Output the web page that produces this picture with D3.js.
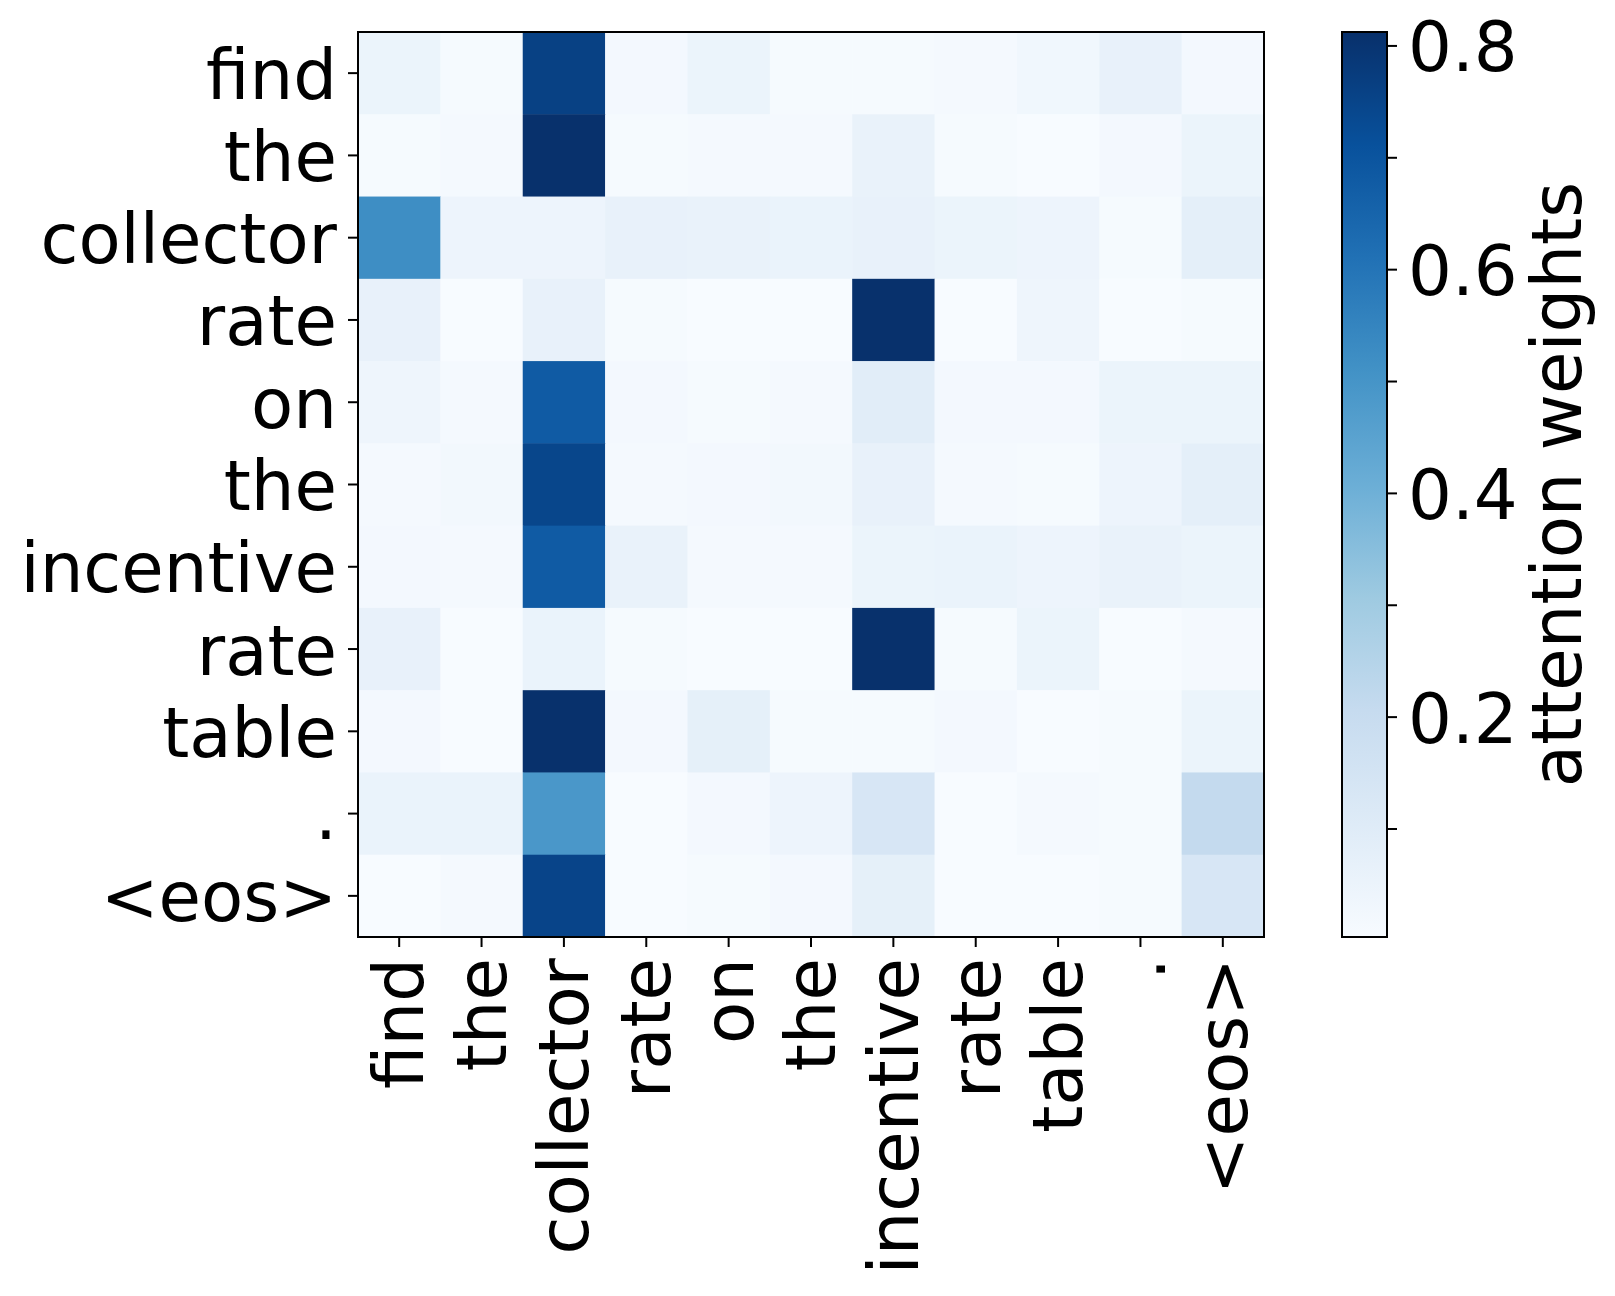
<!DOCTYPE html>
<html>
<head>
<meta charset="utf-8">
<script src="https://cdn.jsdelivr.net/npm/d3@7"></script>
<style>
  body { margin: 0; background: #fff; }
  text { font-family: "DejaVu Sans", sans-serif; fill: #000; }
</style>
</head>
<body>
<div id="viz"></div>
<script>
// tokens (rows = query, cols = key)
var rowTokens = ["find", "the", "collector", "rate", "on", "the", "incentive", "rate", "table", ".", "<eos>"];
var colTokens = ["find", "the", "collector", "rate", "on", "the", "incentive", "rate", "table", ".", "<eos>"];

// attention weights, one array per row
var rowFind      = [0.050, 0.010, 0.760, 0.020, 0.050, 0.010, 0.010, 0.015, 0.030, 0.065, 0.020];
var rowThe1      = [0.010, 0.015, 0.810, 0.010, 0.015, 0.015, 0.060, 0.010, 0.005, 0.020, 0.050];
var rowCollector = [0.520, 0.045, 0.045, 0.065, 0.060, 0.055, 0.065, 0.050, 0.045, 0.010, 0.080];
var rowRate1     = [0.065, 0.005, 0.065, 0.010, 0.005, 0.005, 0.810, 0.005, 0.040, 0.005, 0.010];
var rowOn        = [0.040, 0.015, 0.680, 0.020, 0.010, 0.015, 0.090, 0.020, 0.020, 0.050, 0.050];
var rowThe2      = [0.015, 0.025, 0.745, 0.015, 0.020, 0.025, 0.065, 0.015, 0.010, 0.045, 0.080];
var rowIncentive = [0.020, 0.015, 0.680, 0.060, 0.015, 0.015, 0.050, 0.055, 0.045, 0.060, 0.050];
var rowRate2     = [0.065, 0.005, 0.055, 0.010, 0.005, 0.005, 0.810, 0.010, 0.050, 0.005, 0.015];
var rowTable     = [0.020, 0.005, 0.810, 0.020, 0.075, 0.010, 0.010, 0.020, 0.005, 0.010, 0.050];
var rowDot       = [0.055, 0.055, 0.490, 0.005, 0.020, 0.045, 0.135, 0.005, 0.015, 0.010, 0.210];
var rowEos       = [0.005, 0.015, 0.750, 0.005, 0.010, 0.020, 0.075, 0.005, 0.005, 0.010, 0.135];
var weights = [rowFind, rowThe1, rowCollector, rowRate1, rowOn, rowThe2, rowIncentive, rowRate2, rowTable, rowDot, rowEos];

var cbarTicks = [0.1, 0.2, 0.3, 0.4, 0.5, 0.6, 0.7, 0.8];
var cbarLabels = [0.2, 0.4, 0.6, 0.8];
var vmin = 0.003, vmax = 0.812;

// matplotlib "Blues"
var blues = ["#f7fbff", "#deebf7", "#c6dbef", "#9ecae1", "#6baed6", "#4292c6", "#2171b5", "#08519c", "#08306b"];
var color = d3.scaleLinear()
    .domain(d3.range(blues.length).map(function (i) { return vmin + (vmax - vmin) * i / (blues.length - 1); }))
    .range(blues)
    .clamp(true);

var W = 1615, H = 1296;
var plot = { x: 358, y: 32, w: 906, h: 905 };
var cbar = { x: 1342, y: 32, w: 45, h: 905 };
var fs = 69;

var svg = d3.select("#viz").append("svg")
    .attr("width", W)
    .attr("height", H);

var x = d3.scaleBand().domain(d3.range(colTokens.length)).range([plot.x, plot.x + plot.w]);
var y = d3.scaleBand().domain(d3.range(rowTokens.length)).range([plot.y, plot.y + plot.h]);

var cells = [];
weights.forEach(function (row, i) {
    row.forEach(function (v, j) { cells.push({ r: i, c: j, v: v }); });
});

svg.append("g").selectAll("rect")
    .data(cells)
    .enter().append("rect")
    .attr("x", function (d) { return x(d.c); })
    .attr("y", function (d) { return y(d.r); })
    .attr("width", x.bandwidth() + 0.5)
    .attr("height", y.bandwidth() + 0.5)
    .attr("fill", function (d) { return color(d.v); });

svg.append("rect")
    .attr("x", plot.x).attr("y", plot.y)
    .attr("width", plot.w).attr("height", plot.h)
    .attr("fill", "none").attr("stroke", "#000").attr("stroke-width", 2);

// y axis
var yAxis = d3.axisLeft(y)
    .tickFormat(function (i) { return rowTokens[i]; })
    .tickSize(10).tickPadding(11);
var gy = svg.append("g").attr("transform", "translate(" + plot.x + ",0)").call(yAxis);
gy.select(".domain").remove();
gy.selectAll(".tick line").attr("stroke", "#000").attr("stroke-width", 2);
gy.selectAll(".tick text").style("font-size", fs + "px").attr("font-family", null).attr("dy", "0.37em");

// x axis, rotated labels
var xAxis = d3.axisBottom(x)
    .tickFormat(function (i) { return colTokens[i]; })
    .tickSize(10).tickPadding(11);
var gx = svg.append("g").attr("transform", "translate(0," + (plot.y + plot.h) + ")").call(xAxis);
gx.select(".domain").remove();
gx.selectAll(".tick line").attr("stroke", "#000").attr("stroke-width", 2);
gx.selectAll(".tick text")
    .style("font-size", fs + "px").attr("font-family", null)
    .attr("transform", "rotate(-90)")
    .attr("x", -21).attr("y", 0)
    .attr("dy", "0.35em")
    .attr("text-anchor", "end");

// colorbar
var defs = svg.append("defs");
var grad = defs.append("linearGradient").attr("id", "cbgrad")
    .attr("x1", 0).attr("y1", 1).attr("x2", 0).attr("y2", 0);
grad.selectAll("stop")
    .data(blues)
    .enter().append("stop")
    .attr("offset", function (d, i) { return i / (blues.length - 1); })
    .attr("stop-color", function (d) { return d; });

svg.append("rect")
    .attr("x", cbar.x).attr("y", cbar.y)
    .attr("width", cbar.w).attr("height", cbar.h)
    .attr("fill", "url(#cbgrad)")
    .attr("stroke", "#000").attr("stroke-width", 2);

var cy = d3.scaleLinear().domain([vmin, vmax]).range([cbar.y + cbar.h, cbar.y]);
var cAxis = d3.axisRight(cy)
    .tickValues(cbarTicks)
    .tickFormat(function (d) {
        return cbarLabels.some(function (l) { return Math.abs(l - d) < 1e-9; }) ? d3.format(".1f")(d) : "";
    })
    .tickSize(10).tickPadding(11);
var gc = svg.append("g").attr("transform", "translate(" + (cbar.x + cbar.w) + ",0)").call(cAxis);
gc.select(".domain").remove();
gc.selectAll(".tick line").attr("stroke", "#000").attr("stroke-width", 2);
gc.selectAll(".tick text").style("font-size", fs + "px").attr("font-family", null).attr("dy", "0.37em");

svg.append("text")
    .attr("transform", "translate(1557," + (cbar.y + cbar.h / 2) + ") rotate(-90)")
    .attr("text-anchor", "middle")
    .attr("dy", "0.35em")
    .style("font-size", fs + "px")
    .text("attention weights");
</script>
</body>
</html>
